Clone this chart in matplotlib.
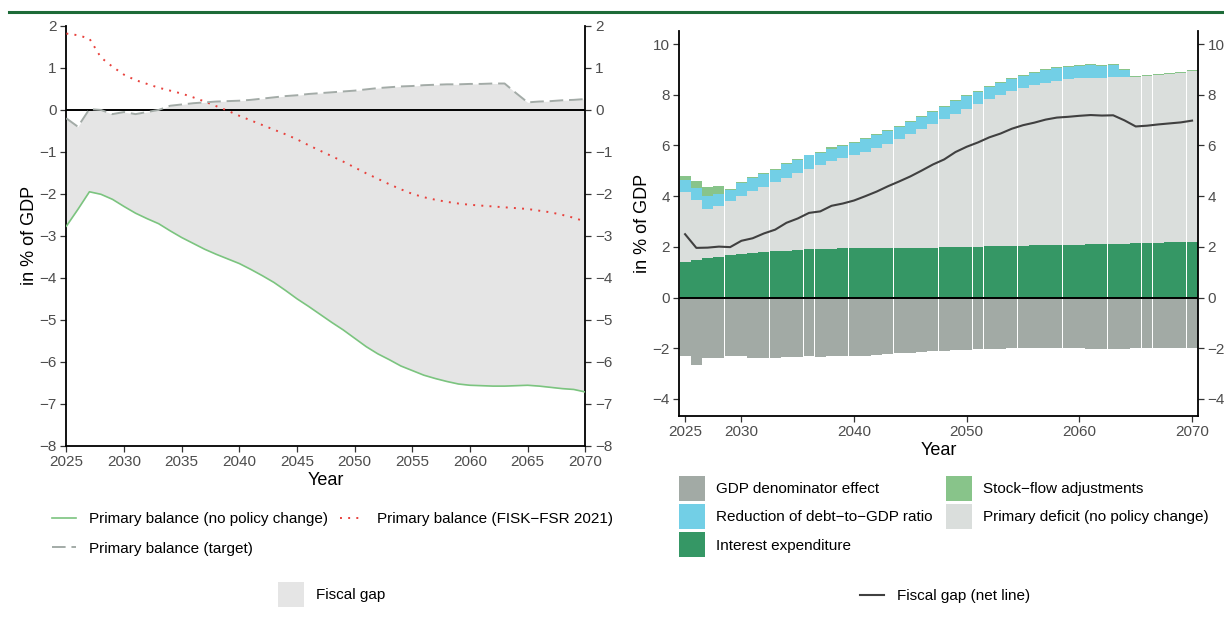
import numpy as np
import matplotlib
matplotlib.use("Agg")
import matplotlib.pyplot as plt
from matplotlib.lines import Line2D
from matplotlib.patches import Patch

plt.rcParams['font.family'] = ['Liberation Sans', 'DejaVu Sans']

years = np.arange(2025, 2071)

# primary balances, in % of GDP
pb_nopolicy = np.array([
    -2.77, -2.37, -1.95, -2.01, -2.13, -2.30, -2.46, -2.59, -2.71, -2.88,
    -3.04, -3.18, -3.32, -3.44, -3.55, -3.66, -3.80, -3.95, -4.11, -4.30,
    -4.50, -4.68, -4.87, -5.06, -5.24, -5.44, -5.64, -5.81, -5.95, -6.10,
    -6.21, -6.32, -6.40, -6.47, -6.53, -6.56, -6.57, -6.58, -6.58, -6.57,
    -6.56, -6.58, -6.61, -6.64, -6.66, -6.72])
pb_fsr2021 = np.array([
    1.82, 1.78, 1.70, 1.25, 1.03, 0.84, 0.71, 0.62, 0.53, 0.46,
    0.39, 0.30, 0.20, 0.09, -0.02, -0.14, -0.25, -0.36, -0.47, -0.58,
    -0.70, -0.84, -0.97, -1.10, -1.23, -1.37, -1.51, -1.64, -1.77, -1.89,
    -2.00, -2.08, -2.14, -2.19, -2.23, -2.26, -2.28, -2.30, -2.32, -2.34,
    -2.36, -2.40, -2.44, -2.50, -2.57, -2.66])
pb_target = np.array([
    -0.20, -0.40, 0.02, 0.00, -0.10, -0.05, -0.10, -0.05, 0.00, 0.10,
    0.13, 0.16, 0.18, 0.20, 0.21, 0.22, 0.24, 0.27, 0.30, 0.33,
    0.35, 0.38, 0.40, 0.42, 0.44, 0.46, 0.49, 0.52, 0.54, 0.56,
    0.57, 0.59, 0.60, 0.61, 0.61, 0.62, 0.62, 0.63, 0.63, 0.40,
    0.18, 0.20, 0.21, 0.23, 0.24, 0.26])

# fiscal gap decomposition
interest = np.array([
    1.41, 1.49, 1.56, 1.61, 1.66, 1.71, 1.75, 1.79, 1.83, 1.85,
    1.88, 1.91, 1.92, 1.93, 1.94, 1.95, 1.95, 1.95, 1.95, 1.96,
    1.96, 1.96, 1.97, 1.98, 2.00, 2.00, 2.01, 2.02, 2.03, 2.04,
    2.05, 2.06, 2.06, 2.07, 2.08, 2.09, 2.10, 2.10, 2.11, 2.12,
    2.14, 2.15, 2.17, 2.18, 2.20, 2.21])
gdp_denominator = np.array([
    -2.30, -2.65, -2.40, -2.40, -2.30, -2.30, -2.40, -2.40, -2.40, -2.34,
    -2.34, -2.30, -2.34, -2.30, -2.30, -2.30, -2.30, -2.26, -2.21, -2.18,
    -2.18, -2.14, -2.10, -2.10, -2.06, -2.06, -2.04, -2.03, -2.03, -2.00,
    -1.99, -1.99, -1.99, -1.99, -1.99, -1.99, -2.01, -2.01, -2.01, -2.01,
    -1.99, -1.99, -1.99, -1.99, -1.99, -1.99])
debt_reduction = np.array([
    0.45, 0.47, 0.50, 0.47, 0.46, 0.49, 0.49, 0.51, 0.50, 0.52,
    0.50, 0.52, 0.46, 0.51, 0.48, 0.48, 0.51, 0.50, 0.50, 0.46,
    0.46, 0.47, 0.47, 0.47, 0.52, 0.53, 0.47, 0.48, 0.48, 0.48,
    0.49, 0.47, 0.51, 0.51, 0.47, 0.47, 0.50, 0.47, 0.47, 0.27,
    0.00, 0.00, 0.00, 0.00, 0.00, 0.00])
stock_flow = np.array([
    0.17, 0.28, 0.36, 0.32, 0.04, 0.04, 0.04, 0.04, 0.04, 0.04,
    0.04, 0.03, 0.04, 0.04, 0.04, 0.04, 0.04, 0.04, 0.04, 0.04,
    0.04, 0.04, 0.04, 0.04, 0.04, 0.04, 0.04, 0.04, 0.04, 0.04,
    0.04, 0.04, 0.04, 0.04, 0.04, 0.04, 0.04, 0.04, 0.04, 0.04,
    0.04, 0.04, 0.04, 0.04, 0.04, 0.04])

MINUS = '\u2212'
C_GAP = '#e5e5e5'
C_NOPOL = '#7bc47f'
C_FSR = '#e8413c'
C_TARGET = '#a3aba7'
C_GDP = '#a2aaa5'
C_DEBT = '#72cfe6'
C_INT = '#359765'
C_SFA = '#88c48a'
C_DEF = '#dadedc'
C_NET = '#404040'
BAR_W = 0.97


def style(ax):
    ax.spines['top'].set_visible(False)
    for s in ('left', 'right', 'bottom'):
        ax.spines[s].set_linewidth(1.3)
        ax.spines[s].set_color('black')
    ax.tick_params(direction='out', length=4, width=0.9, color='#333333',
                   labelcolor='#4d4d4d', labelsize=11, pad=3,
                   right=True, labelright=True)
    ax.set_xlabel('Year', fontsize=13, labelpad=2)
    ax.set_ylabel('in % of GDP', fontsize=13, labelpad=1)


fig = plt.figure(figsize=(12.24, 6.34), dpi=100)

# green rule along the top
fig.add_artist(Line2D([9 / 1224, 1.0], [1 - 12 / 634] * 2, color='#1d6b38', lw=2.2))

# left: primary balances and fiscal gap
ax1 = fig.add_axes([0.0542, 0.2970, 0.4240, 0.6620])
ax1.fill_between(years, pb_nopolicy, pb_target, color=C_GAP, lw=0, zorder=1)
ax1.axhline(0, color='black', lw=1.4, zorder=2)
l_np, = ax1.plot(years, pb_nopolicy, color=C_NOPOL, lw=1.2, zorder=3)
l_fsr, = ax1.plot(years, pb_fsr2021, color=C_FSR, lw=1.4, ls=(0, (1, 3.2)), zorder=3)
l_tg, = ax1.plot(years, pb_target, color=C_TARGET, lw=1.4, ls=(0, (7, 3)), zorder=3)
ax1.set_xlim(2025, 2070)
ax1.set_ylim(-8, 2)
ax1.set_xticks(np.arange(2025, 2071, 5))
ax1.set_yticks(np.arange(-8, 3, 1))
style(ax1)

# right: decomposition of the fiscal gap
deficit = -pb_nopolicy
ax2 = fig.add_axes([0.5551, 0.3443, 0.4234, 0.6062])
ax2.bar(years, gdp_denominator, width=BAR_W, color=C_GDP, lw=0)
ax2.bar(years, interest, width=BAR_W, color=C_INT, lw=0)
ax2.bar(years, deficit, width=BAR_W, bottom=interest, color=C_DEF, lw=0)
ax2.bar(years, debt_reduction, width=BAR_W, bottom=interest + deficit, color=C_DEBT, lw=0)
ax2.bar(years, stock_flow, width=BAR_W, bottom=interest + deficit + debt_reduction,
        color=C_SFA, lw=0)
ax2.axhline(0, color='black', lw=1.4, zorder=3)
net = gdp_denominator + interest + deficit + debt_reduction + stock_flow
l_net, = ax2.plot(years, net, color=C_NET, lw=1.5, zorder=4)
ax2.set_xlim(2024.5, 2070.5)
ax2.set_ylim(-4.66, 10.5)
ax2.set_xticks([2025, 2030, 2040, 2050, 2060, 2070])
ax2.set_yticks(np.arange(-4, 11, 2))
style(ax2)

# legends
leg_kw = dict(frameon=False, fontsize=11, borderpad=0, borderaxespad=0)
fig.legend([l_np, l_tg, l_fsr],
           ['Primary balance (no policy change)', 'Primary balance (target)',
            f'Primary balance (FISK{MINUS}FSR 2021)'],
           ncol=2, loc='upper left', bbox_to_anchor=(0.0425, 0.1925),
           handlelength=1.6, handletextpad=0.85, columnspacing=0.75,
           labelspacing=1.04, **leg_kw)
fig.legend([Patch(facecolor=C_GAP, edgecolor='none')], ['Fiscal gap'],
           loc='upper left', bbox_to_anchor=(0.2271, 0.082),
           handlelength=1.7, handleheight=2.15, handletextpad=0.78, **leg_kw)
fig.legend([Patch(facecolor=c, edgecolor='none') for c in (C_GDP, C_DEBT, C_INT, C_SFA, C_DEF)],
           ['GDP denominator effect', f'Reduction of debt{MINUS}to{MINUS}GDP ratio',
            'Interest expenditure', f'Stock{MINUS}flow adjustments',
            'Primary deficit (no policy change)'],
           ncol=2, loc='upper left', bbox_to_anchor=(0.5547, 0.2492),
           handlelength=1.7, handleheight=2.15, handletextpad=0.75,
           columnspacing=0.85, labelspacing=0.2, **leg_kw)
fig.legend([l_net], ['Fiscal gap (net line)'], loc='center left',
           bbox_to_anchor=(0.7026, 0.0599), handlelength=1.6,
           handletextpad=0.8, **leg_kw)

fig.savefig('out.png', dpi=100)
